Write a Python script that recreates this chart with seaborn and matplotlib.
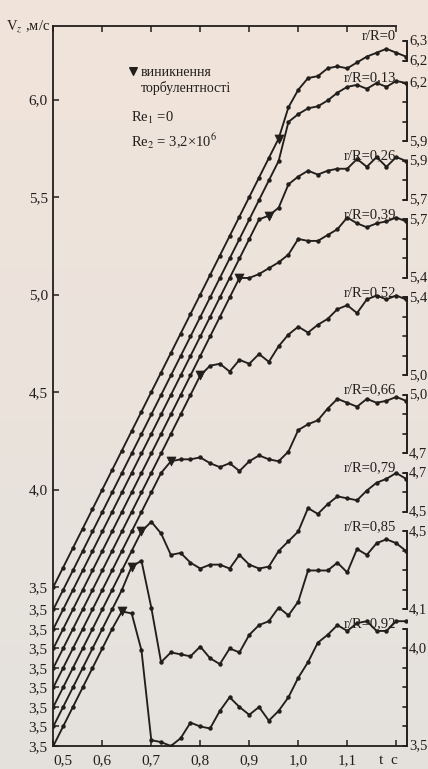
import matplotlib
matplotlib.use("Agg")
import matplotlib.pyplot as plt
import numpy as np
import pandas as pd
import seaborn as sns

# time grid, s
t = [0.50, 0.52, 0.54, 0.56, 0.58, 0.60, 0.62, 0.64, 0.66, 0.68,
     0.70, 0.72, 0.74, 0.76, 0.78, 0.80, 0.82, 0.84, 0.86, 0.88,
     0.90, 0.92, 0.94, 0.96, 0.98, 1.00, 1.02, 1.04, 1.06, 1.08,
     1.10, 1.12, 1.14, 1.16, 1.18, 1.20, 1.22]

radii = ["0", "0,13", "0,26", "0,39", "0,52", "0,66", "0,79", "0,85", "0,92"]

# axial velocity V_z, m/s, each curve on its own scale
v_r00 = [3.5, 3.6, 3.7, 3.8, 3.9, 4.0, 4.1, 4.2, 4.3, 4.4, 4.5, 4.6, 4.7, 4.8,
         4.9, 5.0, 5.1, 5.2, 5.3, 5.4, 5.5, 5.6, 5.7, 5.8,
         5.96, 6.05, 6.11, 6.12, 6.16, 6.17, 6.16, 6.19, 6.22, 6.24, 6.26, 6.24, 6.22]
v_r13 = [3.5, 3.6, 3.7, 3.8, 3.9, 4.0, 4.1, 4.2, 4.3, 4.4, 4.5, 4.6, 4.7, 4.8,
         4.9, 5.0, 5.1, 5.2, 5.3, 5.4, 5.5, 5.6, 5.7, 5.8,
         6.00, 6.04, 6.07, 6.08, 6.11, 6.15, 6.18, 6.19, 6.17, 6.20, 6.18, 6.21, 6.20]
v_r26 = [3.5, 3.6, 3.7, 3.8, 3.9, 4.0, 4.1, 4.2, 4.3, 4.4, 4.5, 4.6, 4.7, 4.8,
         4.9, 5.0, 5.1, 5.2, 5.3, 5.4, 5.5, 5.6,
         5.62, 5.66, 5.78, 5.82, 5.85, 5.83, 5.85, 5.86, 5.86, 5.91, 5.87, 5.92, 5.87,
         5.92, 5.90]
v_r39 = [3.5, 3.6, 3.7, 3.8, 3.9, 4.0, 4.1, 4.2, 4.3, 4.4, 4.5, 4.6, 4.7, 4.8,
         4.9, 5.0, 5.1, 5.2, 5.3, 5.4,
         5.40, 5.42, 5.45, 5.48, 5.52, 5.60, 5.59, 5.59, 5.62, 5.65, 5.71, 5.68, 5.66,
         5.68, 5.69, 5.71, 5.69]
v_r52 = [3.5, 3.6, 3.7, 3.8, 3.9, 4.0, 4.1, 4.2, 4.3, 4.4, 4.5, 4.6, 4.7, 4.8,
         4.9, 5.0,
         5.05, 5.06, 5.02, 5.08, 5.06, 5.11, 5.07, 5.15, 5.21, 5.25, 5.22, 5.26, 5.29,
         5.34, 5.36, 5.32, 5.39, 5.41, 5.39, 5.41, 5.39]
v_r66 = [3.5, 3.6, 3.7, 3.8, 3.9, 4.0, 4.1, 4.2, 4.3, 4.4, 4.5, 4.6, 4.66,
         4.67, 4.67, 4.68, 4.65, 4.63, 4.65, 4.61, 4.66, 4.69, 4.67, 4.66, 4.71, 4.82,
         4.85, 4.87, 4.93, 4.98, 4.96, 4.94, 4.98, 4.96, 4.97, 4.99, 4.97]
v_r79 = [3.5, 3.6, 3.7, 3.8, 3.9, 4.0, 4.1, 4.2, 4.3, 4.40,
         4.45, 4.39, 4.28, 4.29, 4.24, 4.21, 4.23, 4.23, 4.21, 4.28, 4.23, 4.21, 4.22,
         4.30, 4.35, 4.40, 4.52, 4.49, 4.54, 4.58, 4.57, 4.56, 4.61, 4.65, 4.67, 4.70, 4.67]
v_r85 = [3.5, 3.6, 3.7, 3.8, 3.9, 4.0, 4.1, 4.2, 4.32,
         4.35, 4.11, 3.83, 3.88, 3.87, 3.86, 3.91, 3.85, 3.82, 3.90, 3.88, 3.97, 4.02,
         4.04, 4.11, 4.07, 4.14, 4.30, 4.30, 4.30, 4.34, 4.29, 4.41, 4.38, 4.44, 4.46,
         4.44, 4.40]
v_r92 = [3.5, 3.6, 3.7, 3.8, 3.9, 4.0, 4.1, 4.19,
         4.18, 3.99, 3.53, 3.52, 3.50, 3.54, 3.62, 3.60, 3.59, 3.68, 3.75, 3.70, 3.66,
         3.70, 3.63, 3.68, 3.75, 3.85, 3.93, 4.03, 4.07, 4.12, 4.09, 4.13, 4.14, 4.09,
         4.09, 4.14, 4.14]
series = [v_r00, v_r13, v_r26, v_r39, v_r52, v_r66, v_r79, v_r85, v_r92]

# vertical displacement of every curve on the common sheet
shift = [0.0, -0.115, -0.215, -0.315, -0.415, -0.515, -0.615, -0.715, -0.815]
# index of the point where turbulence sets in (None: not marked)
onset = [23, None, 22, 19, 15, 12, 9, 8, 7]
# right-hand scale of each curve
scale_top = [6.3, 6.2, 5.9, 5.7, 5.4, 5.0, 4.7, 4.5, 4.1]
scale_bottom = [6.2, 5.9, 5.7, 5.4, 5.0, 4.7, 4.5, 4.1, 3.5]
main_ticks = [4.0, 4.5, 5.0, 5.5, 6.0]
x_ticks = [0.5, 0.6, 0.7, 0.8, 0.9, 1.0, 1.1, 1.2]
x_labels = ["0,5", "0,6", "0,7", "0,8", "0,9", "1,0", "1,1", ""]

ink = "#221e1c"
serif = ["Liberation Serif", "DejaVu Serif"]

sns.set_theme(style="ticks")
plt.rcParams["font.family"] = serif
plt.rcParams["mathtext.fontset"] = "stix"
plt.rcParams["text.color"] = ink
plt.rcParams["axes.edgecolor"] = ink
plt.rcParams["xtick.color"] = ink
plt.rcParams["ytick.color"] = ink

W, H = 428, 769
fig = plt.figure(figsize=(W / 100, H / 100), dpi=100)

# paper tone
bg = fig.add_axes([0, 0, 1, 1], zorder=-10)
grad = np.linspace(0, 1, 256)[:, None]
top_c = np.array([0.945, 0.893, 0.855])
bot_c = np.array([0.895, 0.885, 0.868])
img = top_c[None, None, :] * (1 - grad[..., None]) + bot_c[None, None, :] * grad[..., None]
bg.imshow(np.repeat(img, 4, axis=1), aspect="auto", extent=[0, 1, 0, 1])
bg.set_axis_off()

x0_px, x1_px, y0_px, y1_px = 53.3, 407.0, 746.0, 26.0
ax = fig.add_axes([x0_px / W, (H - y0_px) / H, (x1_px - x0_px) / W, (y0_px - y1_px) / H])
ax.patch.set_alpha(0)

rows = []
for i, vals in enumerate(series):
    for tt, v in zip(t, vals):
        rows.append({"t": tt, "r": radii[i], "v": v, "y": v + shift[i]})
df = pd.DataFrame(rows)

sns.lineplot(data=df, x="t", y="y", hue="r", palette=[ink] * len(series),
             estimator=None, sort=False, marker="o", markersize=3.2,
             markeredgewidth=0, linewidth=1.35, legend=False, ax=ax, zorder=3)

on_rows = [{"t": t[k], "y": series[i][k] + shift[i]}
           for i, k in enumerate(onset) if k is not None]
on_df = pd.DataFrame(on_rows)
sns.scatterplot(data=on_df, x="t", y="y", marker="v", s=42, color=ink,
                edgecolor=ink, linewidth=0.5, ax=ax, zorder=4)

xmax = 1.222
ax.set_xlim(0.5, xmax)
ax.set_ylim(3.5 + shift[-1], 6.377)

ax.spines["right"].set_visible(False)
ax.spines["top"].set_bounds(0.5, 1.2)
for s in ["left", "bottom", "top"]:
    ax.spines[s].set_linewidth(1.3)

ax.set_xticks(x_ticks)
ax.set_xticklabels(x_labels)
ax.tick_params(axis="x", which="both", direction="in", top=True, bottom=True,
               length=4.5, width=1.1, labelsize=11, pad=6)
ax.get_xticklabels()[0].set_ha("left")

start_ticks = [3.5 + s for s in shift]
ax.set_yticks(start_ticks + main_ticks)
ax.set_yticklabels(["3,5"] * len(start_ticks) + ["4,0", "4,5", "5,0", "5,5", "6,0"])
ax.tick_params(axis="y", direction="in", length=4.5, width=1.1, labelsize=11, pad=4)
ax.set_xlabel("")
ax.set_ylabel("")

ax.text(0.4935, 6.377, r"V$_z$ ,м/с", ha="right", va="center", fontsize=10.5,
        clip_on=False)
ax.text(1.185, 2.613, "t  c", ha="center", va="center", fontsize=11, clip_on=False)

# right-hand scale brackets
hook = 0.009
lab_x = xmax + 0.0045
for i in range(len(series)):
    top = scale_top[i] + shift[i]
    bot = scale_bottom[i] + shift[i]
    ax.plot([xmax - hook, xmax, xmax, xmax - hook], [top, top, bot, bot],
            color=ink, lw=1.4, clip_on=False, zorder=3, solid_joinstyle="miter")
    n = int(round((scale_top[i] - scale_bottom[i]) * 10))
    for j in range(1, n):
        yy = top - 0.1 * j
        ax.plot([xmax - hook, xmax], [yy, yy], color=ink, lw=1.2, clip_on=False)
    if i < len(series) - 1:
        ax.text(lab_x, top, f"{scale_top[i]:.1f}".replace(".", ","),
                ha="left", va="center", fontsize=10.5, clip_on=False)
    else:
        ax.text(lab_x, 4.0 + shift[i], "4,0", ha="left", va="center",
                fontsize=10.5, clip_on=False)
    ax.text(lab_x, bot, f"{scale_bottom[i]:.1f}".replace(".", ","),
            ha="left", va="center", fontsize=10.5, clip_on=False)
    ax.text(1.2, top + 0.025, "r/R=" + radii[i], ha="right", va="center",
            fontsize=10.5, clip_on=False)

# key
ax.scatter([0.6627], [6.145], marker="v", s=30, color=ink, zorder=4)
ax.text(0.6790, 6.141, "виникнення", ha="left", va="center", fontsize=10)
ax.text(0.6790, 6.059, "торбулентності", ha="left", va="center", fontsize=10)
ax.text(0.6594, 5.905, r"Re$_1$ =0", ha="left", va="center", fontsize=10.5)
ax.text(0.6594, 5.787, r"Re$_2$ = 3,2×10$^6$", ha="left", va="center", fontsize=10.5)

fig.savefig("out.png", dpi=100)
